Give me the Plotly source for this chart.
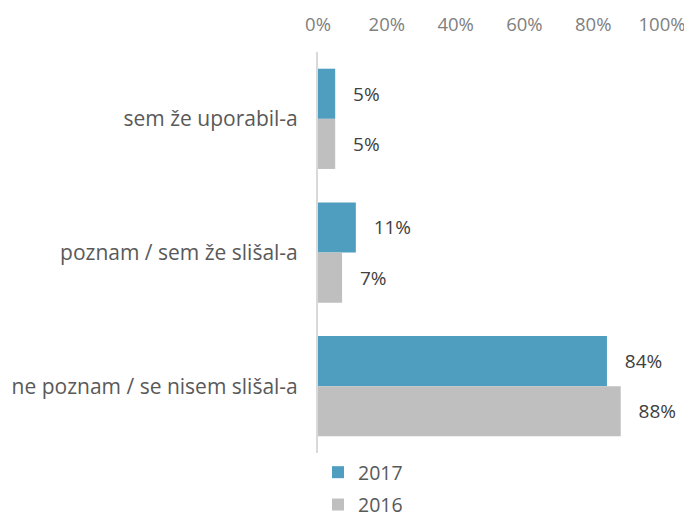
import plotly.graph_objects as go

categories = ["sem že uporabil-a", "poznam / sem že slišal-a", "ne poznam / se nisem slišal-a"]
values_2017 = [0.05, 0.11, 0.84]
values_2016 = [0.05, 0.07, 0.88]
series_names = ["2017", "2016"]
colors = ["#4f9ec0", "#bfbfbf"]

FONT = "Open Sans"

fig = go.Figure()
for name, vals, col in zip(series_names, [values_2017, values_2016], colors):
    fig.add_trace(go.Bar(
        y=categories, x=vals, name=name, orientation="h", legendgroup=name,
        marker=dict(color=col, line=dict(width=0)),
        texttemplate="   %{x:.0%}", textposition="outside",
        textfont=dict(family=FONT, size=19, color="#404040"),
        cliponaxis=False,
    ))

# page body has an 8px margin, so the figure is sized/offset to compensate
fig.update_layout(
    width=684, height=509,
    margin=dict(l=310, r=30, t=44, b=64, autoexpand=False),
    paper_bgcolor="white", plot_bgcolor="white",
    barmode="group", bargap=0.25, bargroupgap=0,
    font=dict(family=FONT, size=18, color="#595959"),
    showlegend=True,
    legend=dict(orientation="v", x=0.0, xanchor="left", y=0.0, yanchor="top",
                font=dict(family=FONT, size=19.5, color="#595959"),
                bgcolor="rgba(0,0,0,0)", traceorder="grouped", tracegroupgap=4),
    xaxis=dict(side="top", range=[0, 1], dtick=0.2, tick0=0, tickformat=".0%",
               showgrid=False, zeroline=False, showline=False, automargin=False,
               ticks="", ticklabelstandoff=16,
               tickfont=dict(family=FONT, size=18.5, color="#808080")),
    yaxis=dict(autorange="reversed", categoryorder="array", categoryarray=categories,
               showline=True, linecolor="#d9d9d9", linewidth=2, showgrid=False,
               ticks="", ticklabelstandoff=14, automargin=False,
               tickfont=dict(family=FONT, size=21, color="#595959")),
)

fig.write_html("out.html")
